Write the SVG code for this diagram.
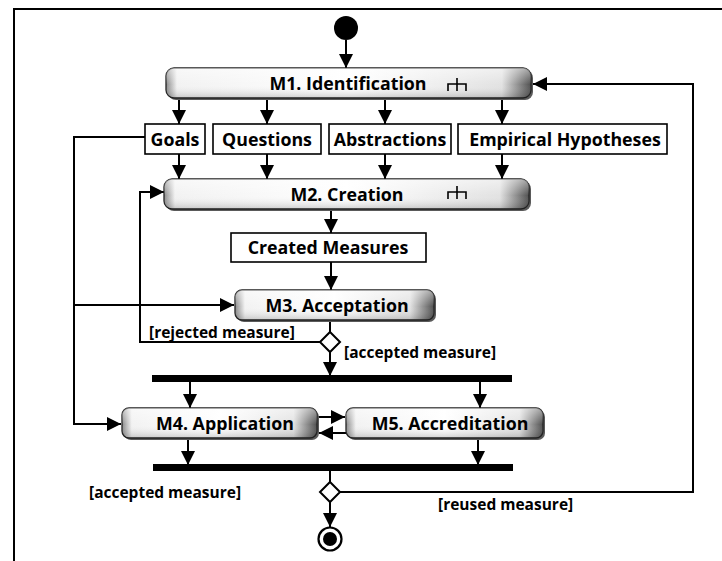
<svg xmlns="http://www.w3.org/2000/svg" width="722" height="561" viewBox="0 0 722 561">
<defs>
<linearGradient id="hw" x1="0" y1="0" x2="1" y2="0">
<stop offset="0" stop-color="#8a8a8a"/><stop offset="0.03" stop-color="#f2f2f2"/><stop offset="0.5" stop-color="#ffffff"/><stop offset="0.92" stop-color="#e2e2e2"/><stop offset="1" stop-color="#505050"/>
</linearGradient>
<linearGradient id="hn" x1="0" y1="0" x2="1" y2="0">
<stop offset="0" stop-color="#8a8a8a"/><stop offset="0.05" stop-color="#f2f2f2"/><stop offset="0.5" stop-color="#ffffff"/><stop offset="0.88" stop-color="#e2e2e2"/><stop offset="1" stop-color="#505050"/>
</linearGradient>
<linearGradient id="vg" x1="0" y1="0" x2="0" y2="1">
<stop offset="0" stop-color="#ffffff" stop-opacity="0.5"/><stop offset="0.55" stop-color="#ffffff" stop-opacity="0"/><stop offset="1" stop-color="#000000" stop-opacity="0.18"/>
</linearGradient>
<marker id="ah" markerUnits="userSpaceOnUse" markerWidth="15" markerHeight="14" refX="14" refY="7" orient="auto">
<path d="M0,0 L14,7 L0,14 Z" fill="#000"/>
</marker>
<style>
.ln{fill:none;stroke:#000;stroke-width:2}
.sh{fill:#5a5a5a}
.btn{stroke:#222;stroke-width:1.3}
.ov{fill:url(#vg)}
.obj{fill:#fff;stroke:#000;stroke-width:1.6}
.t{font-family:"Open Sans","Liberation Sans",sans-serif;font-weight:700;font-size:17.8px;fill:#000;text-anchor:middle}
.lb{font-family:"Open Sans","Liberation Sans",sans-serif;font-weight:700;font-size:15.5px;fill:#000}
.rake{fill:none;stroke:#000;stroke-width:1.6}
.bar{fill:#000}
.dia{fill:#fff;stroke:#000;stroke-width:2}
</style>
</defs>
<rect width="722" height="561" fill="#fff"/>
<path d="M14,561 V9 H722" fill="none" stroke="#000" stroke-width="2"/>

<g id="connectors">
<path class="ln" d="M346,40 V68" marker-end="url(#ah)"/>
<path class="ln" d="M179,98 V124" marker-end="url(#ah)"/>
<path class="ln" d="M267,98 V124" marker-end="url(#ah)"/>
<path class="ln" d="M385,98 V124" marker-end="url(#ah)"/>
<path class="ln" d="M502,98 V124" marker-end="url(#ah)"/>
<path class="ln" d="M179,154 V179" marker-end="url(#ah)"/>
<path class="ln" d="M267,154 V179" marker-end="url(#ah)"/>
<path class="ln" d="M385,154 V179" marker-end="url(#ah)"/>
<path class="ln" d="M502,154 V179" marker-end="url(#ah)"/>
<path class="ln" d="M331,209 V233" marker-end="url(#ah)"/>
<path class="ln" d="M331,262 V290" marker-end="url(#ah)"/>
<path class="ln" d="M330,320 V332"/>
<path class="ln" d="M330,352 V376" marker-end="url(#ah)"/>
<path class="ln" d="M320,342 H140 V192 H164" marker-end="url(#ah)"/>
<path class="ln" d="M145,137 H74 V424 H121" marker-end="url(#ah)"/>
<path class="ln" d="M74,305 H234" marker-end="url(#ah)"/>
<path class="ln" d="M190,382 V408" marker-end="url(#ah)"/>
<path class="ln" d="M480,382 V408" marker-end="url(#ah)"/>
<path class="ln" d="M318,417 H345" marker-end="url(#ah)"/>
<path class="ln" d="M346,433 H319" marker-end="url(#ah)"/>
<path class="ln" d="M188,438 V465" marker-end="url(#ah)"/>
<path class="ln" d="M478,438 V465" marker-end="url(#ah)"/>
<path class="ln" d="M330,471 V482"/>
<path class="ln" d="M330,502 V527" marker-end="url(#ah)"/>
<path class="ln" d="M340,492 H693 V84 H533" marker-end="url(#ah)"/>
<text class="lb" x="149" y="338">[rejected measure]</text>
<text class="lb" x="344" y="358">[accepted measure]</text>
<text class="lb" x="89" y="498">[accepted measure]</text>
<text class="lb" x="438" y="510">[reused measure]</text>
</g>

<g id="start"><circle cx="346" cy="28" r="12" fill="#000"/></g>

<g id="m1">
<rect class="sh" x="168" y="70" width="365" height="30" rx="8"/>
<rect class="btn" x="166" y="68" width="365" height="30" rx="8" fill="url(#hw)"/>
<rect class="ov" x="166" y="68" width="365" height="30" rx="8"/>
<text class="t" x="348" y="89.5">M1. Identification</text>
<path class="rake" d="M457,78 V91 M448,91 V84 H466 V91"/>
</g>

<g id="goals"><rect class="obj" x="145" y="124" width="60" height="30"/><text class="t" x="175" y="145.5">Goals</text></g>
<g id="questions"><rect class="obj" x="213" y="124" width="108" height="30"/><text class="t" x="267" y="145.5">Questions</text></g>
<g id="abstractions"><rect class="obj" x="329" y="124" width="122" height="30"/><text class="t" x="390" y="145.5">Abstractions</text></g>
<g id="hypotheses"><rect class="obj" x="458" y="124" width="209" height="30"/><text class="t" x="565" y="145.5">Empirical Hypotheses</text></g>

<g id="m2">
<rect class="sh" x="166" y="181" width="365" height="30" rx="8"/>
<rect class="btn" x="164" y="179" width="365" height="30" rx="8" fill="url(#hw)"/>
<rect class="ov" x="164" y="179" width="365" height="30" rx="8"/>
<text class="t" x="347" y="200.5">M2. Creation</text>
<path class="rake" d="M457,186 V199 M448,199 V192 H466 V199"/>
</g>

<g id="created"><rect class="obj" x="231" y="233" width="195" height="29"/><text class="t" x="328" y="254">Created Measures</text></g>

<g id="m3">
<rect class="sh" x="237" y="292" width="199" height="30" rx="7"/>
<rect class="btn" x="235" y="290" width="199" height="30" rx="7" fill="url(#hn)"/>
<rect class="ov" x="235" y="290" width="199" height="30" rx="7"/>
<text class="t" x="337" y="311.5">M3. Acceptation</text>
</g>

<g id="d1"><path class="dia" d="M330,332 L340,342 L330,352 L320,342 Z"/></g>
<g id="fork1"><rect class="bar" x="152" y="375" width="360" height="7"/></g>

<g id="m4">
<rect class="sh" x="124" y="410" width="195" height="30" rx="7"/>
<rect class="btn" x="122" y="408" width="195" height="30" rx="7" fill="url(#hn)"/>
<rect class="ov" x="122" y="408" width="195" height="30" rx="7"/>
<text class="t" x="225" y="429.5">M4. Application</text>
</g>

<g id="m5">
<rect class="sh" x="348" y="410" width="197" height="30" rx="7"/>
<rect class="btn" x="346" y="408" width="197" height="30" rx="7" fill="url(#hn)"/>
<rect class="ov" x="346" y="408" width="197" height="30" rx="7"/>
<text class="t" x="450" y="429.5">M5. Accreditation</text>
</g>

<g id="join"><rect class="bar" x="153" y="464" width="360" height="7"/></g>
<g id="d2"><path class="dia" d="M330,482 L340,492 L330,502 L320,492 Z"/></g>
<g id="final"><circle cx="330" cy="539" r="11.5" fill="#fff" stroke="#000" stroke-width="2.2"/><circle cx="330" cy="539" r="7" fill="#000"/></g>
</svg>
